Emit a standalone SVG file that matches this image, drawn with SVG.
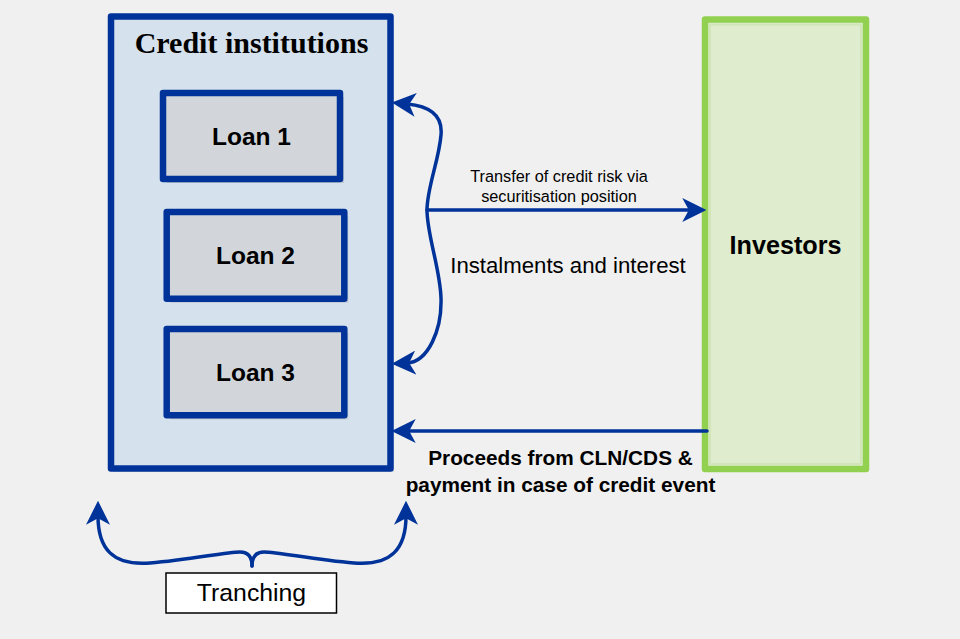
<svg xmlns="http://www.w3.org/2000/svg" width="960" height="639" viewBox="0 0 960 639">
<defs>
<marker id="ah" markerUnits="userSpaceOnUse" markerWidth="24" markerHeight="24" viewBox="0 0 22 22" refX="8" refY="11" orient="auto-start-reverse">
<path d="M0,0 L22,11 L0,22 L6,11 z" fill="#003399"/>
</marker>
</defs>
<style>
.bg{fill:#f0f0f0}
.conn{fill:none;stroke:#003399;stroke-width:3.5;stroke-linecap:round}
.loan{fill:#d2d6da;stroke:#003399;stroke-width:6.5;stroke-linejoin:round}
.shadow{fill:#b4b8bc;opacity:0.6}
.loantxt{font-family:"Liberation Sans",Arial,sans-serif;font-weight:bold;font-size:24.5px;fill:#000;text-anchor:middle}
.lbl{font-family:"Liberation Sans",Arial,sans-serif;fill:#000;text-anchor:middle}
</style>
<rect class="bg" x="0" y="0" width="960" height="639"/>

<g id="credit-institutions">
<rect x="114" y="20" width="280" height="452" fill="#c0c8d0" opacity="0.5"/>
<rect x="111" y="16.5" width="279.5" height="452" fill="#d5e1ec" stroke="#003399" stroke-width="6.5" stroke-linejoin="round"/>
<text x="251.5" y="53" font-family="'Liberation Serif','Times New Roman',serif" font-weight="bold" font-size="30" text-anchor="middle" fill="#000">Credit institutions</text>
</g>

<g id="loan1">
<rect class="shadow" x="167" y="97" width="177" height="86"/>
<rect class="loan" x="163" y="93" width="177" height="86"/>
<text class="loantxt" x="251.5" y="145">Loan 1</text>
</g>

<g id="loan2">
<rect class="shadow" x="170.7" y="216" width="177.6" height="86.7"/>
<rect class="loan" x="166.7" y="212" width="177.6" height="86.7"/>
<text class="loantxt" x="255.5" y="264">Loan 2</text>
</g>

<g id="loan3">
<rect class="shadow" x="170.7" y="333" width="177.6" height="86.3"/>
<rect class="loan" x="166.7" y="329" width="177.6" height="86.3"/>
<text class="loantxt" x="255.5" y="381">Loan 3</text>
</g>

<g id="investors">
<rect x="705" y="19.5" width="161" height="449.5" fill="#dfecce" stroke="#92d050" stroke-width="6.5" stroke-linejoin="round"/>
<rect x="710" y="24.5" width="151" height="439.5" fill="none" stroke="#d0e6b8" stroke-width="2"/>
<text x="785.5" y="254" font-family="'Liberation Sans',Arial,sans-serif" font-weight="bold" font-size="25.2" text-anchor="middle" fill="#000">Investors</text>
</g>

<g id="tranching">
<rect x="166" y="573" width="170.5" height="40" fill="#ffffff" stroke="#000" stroke-width="1.5"/>
<text class="lbl" x="251.5" y="601" font-size="24.8">Tranching</text>
</g>

<g id="connectors">
<path class="conn" d="M407,104 C428,106 443,114 441,135 C439,160 427,188 427,210 C427,235 440,268 441,298 C442,330 428,362 407,363" marker-start="url(#ah)" marker-end="url(#ah)"/>
<path class="conn" d="M427,210 L691,210" marker-end="url(#ah)"/>
<path class="conn" d="M707,431 L407,431" marker-end="url(#ah)"/>
<path class="conn" d="M98,516 C98,548 112,566 150,563 C190,560 225,552 240,552 C248,552 252,557 252,566" marker-start="url(#ah)"/>
<path class="conn" d="M406,516 C406,548 392,566 354,563 C314,560 279,552 264,552 C256,552 252,557 252,566" marker-start="url(#ah)"/>
</g>

<g id="labels">
<text class="lbl" x="559" y="182" font-size="16.3">Transfer of credit risk via</text>
<text class="lbl" x="559" y="202" font-size="16.3">securitisation position</text>
<text class="lbl" x="568" y="273" font-size="22.2">Instalments and interest</text>
<text class="lbl" x="560.5" y="464.5" font-size="20.8" font-weight="bold">Proceeds from CLN/CDS &amp;</text>
<text class="lbl" x="560.5" y="492" font-size="20.8" font-weight="bold">payment in case of credit event</text>
</g>
</svg>
